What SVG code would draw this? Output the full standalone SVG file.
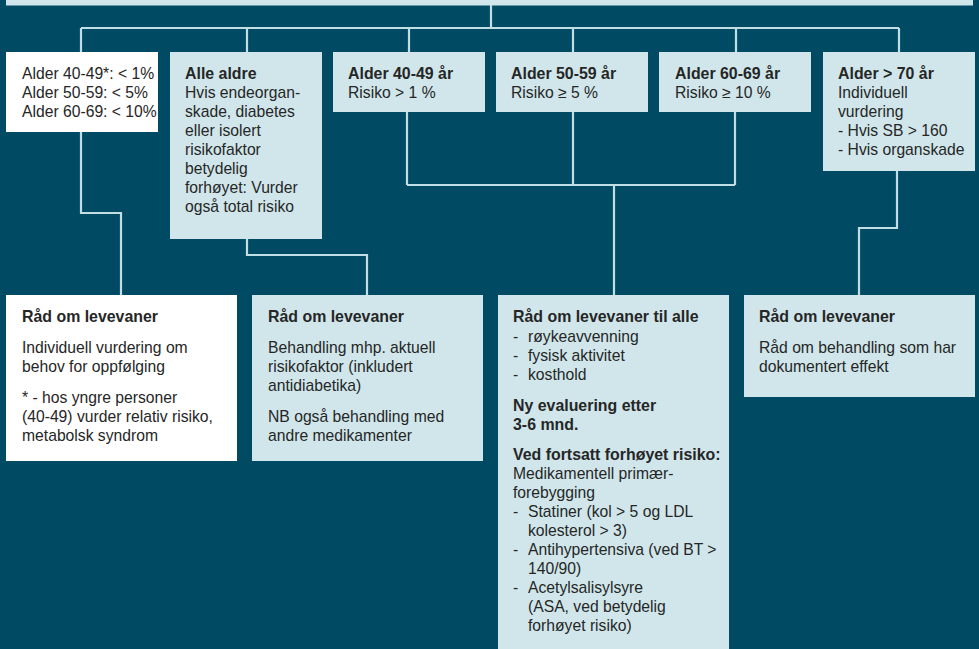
<svg xmlns="http://www.w3.org/2000/svg" width="979" height="649" viewBox="0 0 979 649">
<style>
.bg{fill:#004a63}
.box{fill:#d0e6eb}
.wbox{fill:#ffffff}
.ln{fill:none;stroke:#c2dee5;stroke-width:2.2}
text{font-family:"Liberation Sans",Arial,sans-serif;font-size:15.7px;fill:#262626}
.b{font-weight:bold;font-size:15.9px}
</style>
<rect class="bg" x="0" y="0" width="979" height="649"/>
<g id="top"><rect class="box" x="6" y="-10" width="967" height="15.5"/></g>
<g id="connectors">
<path class="ln" d="M491 5V28M81 28H899M81 28V52M247 28V52M409 28V52M573 28V52M736 28V52M899 28V52"/>
<path class="ln" d="M81 132V213H121V295"/>
<path class="ln" d="M247 239V255H367V295"/>
<path class="ln" d="M407 112V185M573 112V185M735 112V185M407 185H735M614 185V295"/>
<path class="ln" d="M897 171V228H859V295"/>
</g>
<g id="n1"><rect class="wbox" x="6" y="52" width="152" height="80"/>
<text x="22" y="79">Alder 40-49*: &lt; 1%</text>
<text x="22" y="98">Alder 50-59: &lt; 5%</text>
<text x="22" y="117">Alder 60-69: &lt; 10%</text></g>
<g id="n2"><rect class="box" x="170" y="52" width="152" height="187"/>
<text x="185" y="79" class="b">Alle aldre</text>
<text x="185" y="98">Hvis endeorgan-</text>
<text x="185" y="117">skade, diabetes</text>
<text x="185" y="136">eller isolert</text>
<text x="185" y="155">risikofaktor</text>
<text x="185" y="174">betydelig</text>
<text x="185" y="193">forhøyet: Vurder</text>
<text x="185" y="212">også total risiko</text></g>
<g id="n3"><rect class="box" x="333" y="52" width="152" height="60"/>
<text x="348" y="79" class="b">Alder 40-49 år</text>
<text x="348" y="98">Risiko &gt; 1 %</text></g>
<g id="n4"><rect class="box" x="496" y="52" width="152" height="60"/>
<text x="511" y="79" class="b">Alder 50-59 år</text>
<text x="511" y="98">Risiko ≥ 5 %</text></g>
<g id="n5"><rect class="box" x="659" y="52" width="152" height="60"/>
<text x="675" y="79" class="b">Alder 60-69 år</text>
<text x="675" y="98">Risiko ≥ 10 %</text></g>
<g id="n6"><rect class="box" x="823" y="52" width="152" height="119"/>
<text x="838" y="79" class="b">Alder &gt; 70 år</text>
<text x="838" y="98">Individuell</text>
<text x="838" y="117">vurdering</text>
<text x="838" y="136">-  Hvis SB &gt; 160</text>
<text x="838" y="155">-  Hvis organskade</text></g>
<g id="n7"><rect class="wbox" x="6" y="295" width="231" height="166"/>
<text x="22" y="322" class="b">Råd om levevaner</text>
<text x="22" y="353">Individuell vurdering om</text>
<text x="22" y="372">behov for oppfølging</text>
<text x="22" y="403">* - hos yngre personer</text>
<text x="22" y="422">(40-49) vurder relativ risiko,</text>
<text x="22" y="441">metabolsk syndrom</text></g>
<g id="n8"><rect class="box" x="252" y="295" width="231" height="166"/>
<text x="268" y="322" class="b">Råd om levevaner</text>
<text x="268" y="353">Behandling mhp. aktuell</text>
<text x="268" y="372">risikofaktor (inkludert</text>
<text x="268" y="391">antidiabetika)</text>
<text x="268" y="422">NB også behandling med</text>
<text x="268" y="441">andre medikamenter</text></g>
<g id="n9"><rect class="box" x="498" y="295" width="231" height="360"/>
<text x="513" y="322" class="b">Råd om levevaner til alle</text>
<text x="513" y="342">-</text><text x="528" y="342">røykeavvenning</text>
<text x="513" y="361">-</text><text x="528" y="361">fysisk aktivitet</text>
<text x="513" y="380">-</text><text x="528" y="380">kosthold</text>
<text x="513" y="411" class="b">Ny evaluering etter</text>
<text x="513" y="430" class="b">3-6 mnd.</text>
<text x="513" y="460" class="b">Ved fortsatt forhøyet risiko:</text>
<text x="513" y="479">Medikamentell primær-</text>
<text x="513" y="498">forebygging</text>
<text x="513" y="517">-</text><text x="528" y="517">Statiner (kol &gt; 5 og LDL</text>
<text x="528" y="536">kolesterol &gt; 3)</text>
<text x="513" y="555">-</text><text x="528" y="555">Antihypertensiva (ved BT &gt;</text>
<text x="528" y="574">140/90)</text>
<text x="513" y="593">-</text><text x="528" y="593">Acetylsalisylsyre</text>
<text x="528" y="612">(ASA, ved betydelig</text>
<text x="528" y="631">forhøyet risiko)</text></g>
<g id="n10"><rect class="box" x="744" y="295" width="231" height="102"/>
<text x="759" y="322" class="b">Råd om levevaner</text>
<text x="759" y="353">Råd om behandling som har</text>
<text x="759" y="372">dokumentert effekt</text></g>
</svg>
